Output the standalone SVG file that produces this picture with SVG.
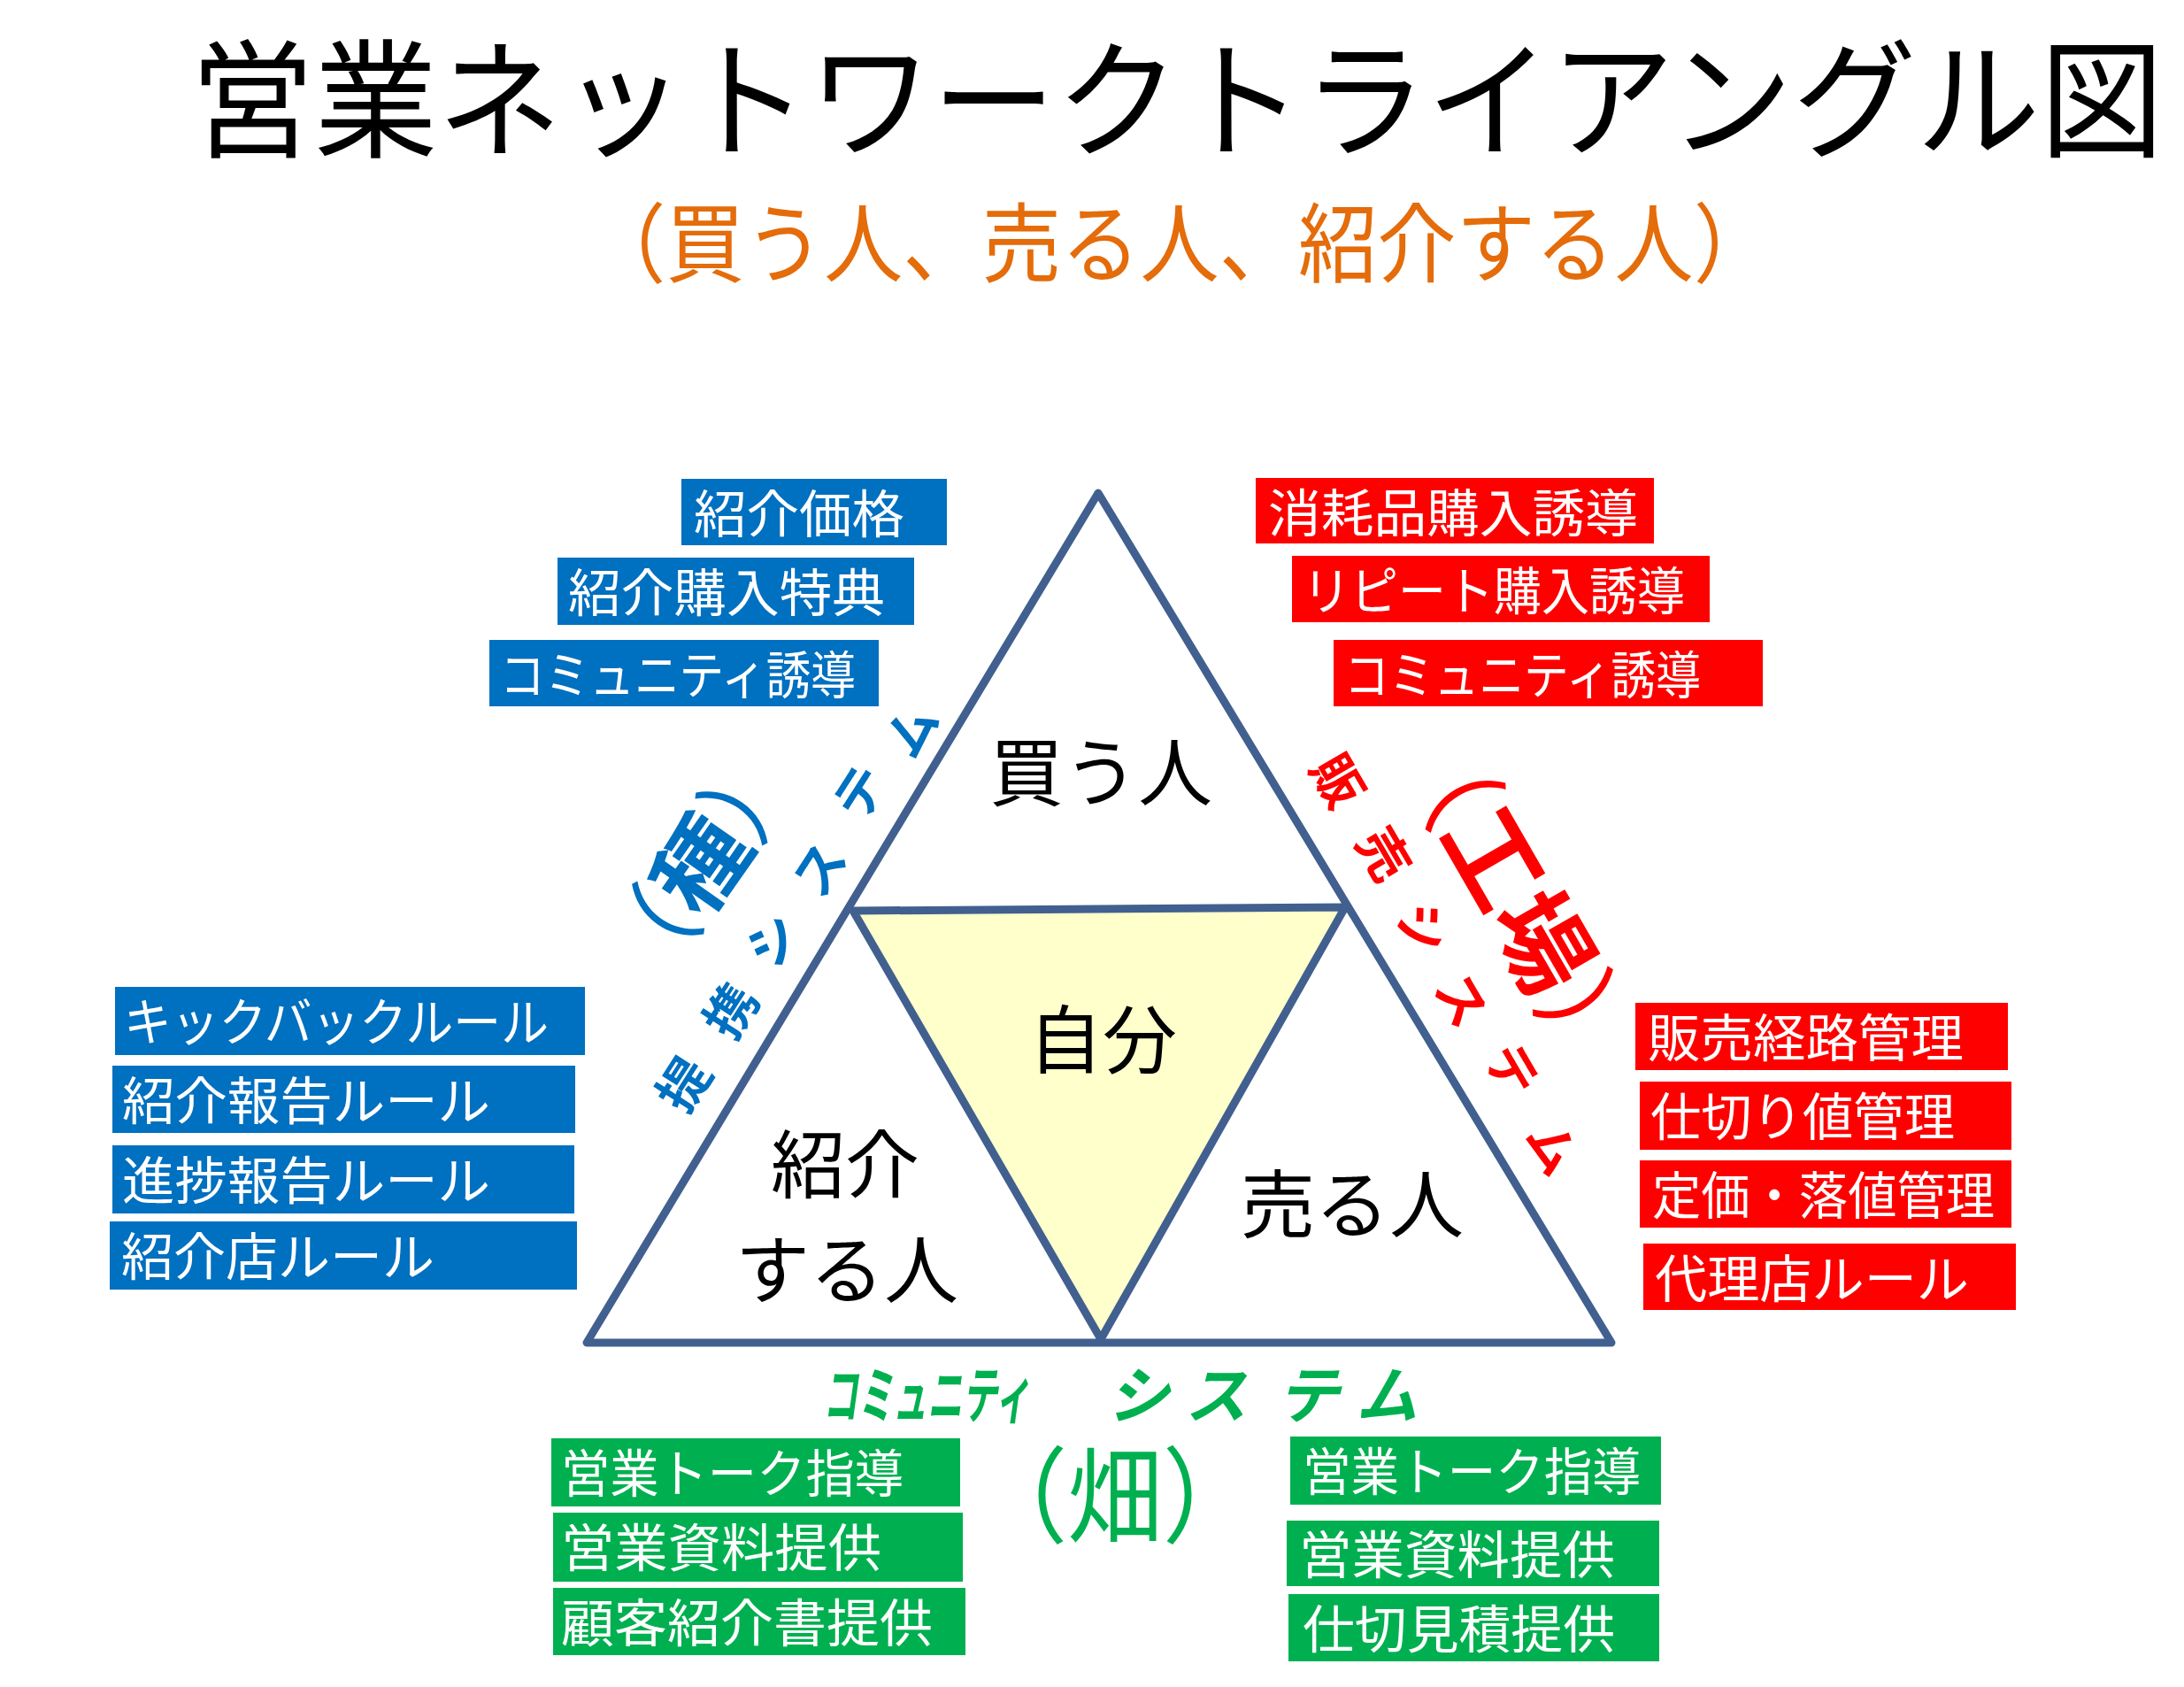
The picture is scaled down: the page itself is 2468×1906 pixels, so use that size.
<svg xmlns="http://www.w3.org/2000/svg" width="2468" height="1906" viewBox="0 0 2468 1906">
<style>
text{font-family:"Noto Sans CJK JP","Noto Sans",sans-serif;}
.title{font-size:145px;fill:#000;}
.sub{font-size:98px;fill:#E46C0A;}
.box-blue{fill:#0070C0;}
.box-red{fill:#FF0000;}
.box-green{fill:#00B050;}
.bt{font-size:58px;fill:#fff;}
.inner{font-size:84px;fill:#000;text-anchor:middle;}
.frame{fill:#fff;stroke:#41608F;stroke-width:9;stroke-linejoin:round;}
.self{fill:#FFFFCC;stroke:#41608F;stroke-width:9;stroke-linejoin:round;}
.sysL{font-size:58px;font-weight:bold;fill:#0070C0;text-anchor:middle;dominant-baseline:central;}
.sysR{font-size:58px;font-weight:bold;fill:#FF0000;text-anchor:middle;dominant-baseline:central;}
.sysB{font-size:70px;font-weight:bold;font-style:italic;fill:#00B050;}
</style>
<rect width="2468" height="1906" fill="#fff"/>

<g id="title">
<text class="title" x="215" y="167" textLength="2230" lengthAdjust="spacingAndGlyphs">営業ネットワークトライアングル図</text>
</g>
<g id="subtitle">
<text class="sub" x="663" y="311" textLength="1340" lengthAdjust="spacingAndGlyphs">（買う人、売る人、紹介する人）</text>
</g>

<g id="triangle">
<polygon class="frame" points="1241,557 663,1517 1821,1517"/>
<polygon class="self" points="964,1029 1520,1025 1244,1513"/>
</g>

<g id="node-buyer"><text class="inner" x="1244" y="904">買う人</text></g>
<g id="node-self"><text class="inner" x="1246" y="1206">自分</text></g>
<g id="node-introducer"><text class="inner" x="955" y="1347">紹介</text><text class="inner" x="957" y="1466">する人</text></g>
<g id="node-seller"><text class="inner" x="1528" y="1392">売る人</text></g>

<g id="blue-top">
<rect class="box-blue" x="770" y="541" width="300" height="75"/>
<text class="bt" x="784" y="602" textLength="238" lengthAdjust="spacingAndGlyphs">紹介価格</text>
<rect class="box-blue" x="630" y="630" width="403" height="76"/>
<text class="bt" x="642" y="691" textLength="358" lengthAdjust="spacingAndGlyphs">紹介購入特典</text>
<rect class="box-blue" x="553" y="723" width="440" height="75"/>
<text class="bt" x="565" y="784" textLength="402" lengthAdjust="spacingAndGlyphs">コミュニティ誘導</text>
</g>

<g id="red-top">
<rect class="box-red" x="1419" y="540" width="450" height="74"/>
<text class="bt" x="1433" y="601" textLength="418" lengthAdjust="spacingAndGlyphs">消耗品購入誘導</text>
<rect class="box-red" x="1460" y="628" width="472" height="75"/>
<text class="bt" x="1472" y="689" textLength="432" lengthAdjust="spacingAndGlyphs">リピート購入誘導</text>
<rect class="box-red" x="1507" y="723" width="485" height="75"/>
<text class="bt" x="1519" y="784" textLength="403" lengthAdjust="spacingAndGlyphs">コミュニティ誘導</text>
</g>

<g id="blue-left">
<rect class="box-blue" x="130" y="1115" width="531" height="77"/>
<text class="bt" x="140" y="1176" textLength="480" lengthAdjust="spacingAndGlyphs">キックバックルール</text>
<rect class="box-blue" x="127" y="1204" width="523" height="76"/>
<text class="bt" x="138" y="1265" textLength="416" lengthAdjust="spacingAndGlyphs">紹介報告ルール</text>
<rect class="box-blue" x="127" y="1294" width="522" height="77"/>
<text class="bt" x="138" y="1355" textLength="416" lengthAdjust="spacingAndGlyphs">進捗報告ルール</text>
<rect class="box-blue" x="124" y="1380" width="528" height="77"/>
<text class="bt" x="137" y="1441" textLength="354" lengthAdjust="spacingAndGlyphs">紹介店ルール</text>
</g>

<g id="red-right">
<rect class="box-red" x="1848" y="1133" width="421" height="76"/>
<text class="bt" x="1862" y="1194" textLength="357" lengthAdjust="spacingAndGlyphs">販売経路管理</text>
<rect class="box-red" x="1853" y="1222" width="420" height="77"/>
<text class="bt" x="1865" y="1283" textLength="344" lengthAdjust="spacingAndGlyphs">仕切り値管理</text>
<rect class="box-red" x="1853" y="1311" width="420" height="76"/>
<text class="bt" x="1867" y="1372" textLength="387" lengthAdjust="spacingAndGlyphs">定価・落値管理</text>
<rect class="box-red" x="1857" y="1405" width="421" height="75"/>
<text class="bt" x="1870" y="1466" textLength="355" lengthAdjust="spacingAndGlyphs">代理店ルール</text>
</g>

<g id="green-left">
<rect class="box-green" x="623" y="1625" width="462" height="77"/>
<text class="bt" x="634" y="1686" textLength="387" lengthAdjust="spacingAndGlyphs">営業トーク指導</text>
<rect class="box-green" x="625" y="1709" width="463" height="78"/>
<text class="bt" x="634" y="1770" textLength="362" lengthAdjust="spacingAndGlyphs">営業資料提供</text>
<rect class="box-green" x="625" y="1794" width="466" height="76"/>
<text class="bt" x="634" y="1855" textLength="420" lengthAdjust="spacingAndGlyphs">顧客紹介書提供</text>
</g>

<g id="green-right">
<rect class="box-green" x="1458" y="1623" width="419" height="77"/>
<text class="bt" x="1472" y="1684" textLength="382" lengthAdjust="spacingAndGlyphs">営業トーク指導</text>
<rect class="box-green" x="1454" y="1718" width="421" height="74"/>
<text class="bt" x="1468" y="1778" textLength="357" lengthAdjust="spacingAndGlyphs">営業資料提供</text>
<rect class="box-green" x="1456" y="1801" width="419" height="76"/>
<text class="bt" x="1472" y="1862" textLength="353" lengthAdjust="spacingAndGlyphs">仕切見積提供</text>
</g>

<g id="label-alliance">
<text class="sysL" transform="translate(770,1223) rotate(-57.3)">提</text>
<text class="sysL" transform="translate(823,1140) rotate(-57.3)">携</text>
<text class="sysL" transform="translate(870,1060) rotate(-57.3)">シ</text>
<text class="sysL" transform="translate(923,980) rotate(-57.3)">ス</text>
<text class="sysL" transform="translate(969,893) rotate(-57.3)">テ</text>
<text class="sysL" transform="translate(1027,823) rotate(-57.3)">ム</text>
<text transform="translate(786,972) rotate(-55)" text-anchor="middle" dominant-baseline="central" font-size="104" fill="#0070C0">（<tspan font-weight="bold">種</tspan>）</text>
</g>

<g id="label-sales">
<text class="sysR" transform="translate(1515,880) rotate(59.6)">販</text>
<text class="sysR" transform="translate(1567,963) rotate(59.6)">売</text>
<text class="sysR" transform="translate(1612,1047) rotate(59.6)">シ</text>
<text class="sysR" transform="translate(1655,1128) rotate(59.6)">ス</text>
<text class="sysR" transform="translate(1712,1207) rotate(59.6)">テ</text>
<text class="sysR" transform="translate(1758,1295) rotate(59.6)">ム</text>
<text transform="translate(1722,1013) rotate(60)" text-anchor="middle" dominant-baseline="central" font-size="110" fill="#FF0000">（<tspan font-weight="bold">工場</tspan>）</text>
</g>

<g id="label-community">
<text class="sysB" x="930" y="1602" textLength="234" lengthAdjust="spacingAndGlyphs">コミュニティ</text>
<text class="sysB" x="1286" y="1602" text-anchor="middle">シ</text>
<text class="sysB" x="1374" y="1602" text-anchor="middle">ス</text>
<text class="sysB" x="1478" y="1602" text-anchor="middle">テ</text>
<text class="sysB" x="1567" y="1602" text-anchor="middle">ム</text>
<text x="1260" y="1734" text-anchor="middle" font-size="118" fill="#00B050" textLength="322" lengthAdjust="spacingAndGlyphs">（畑）</text>
</g>
</svg>
